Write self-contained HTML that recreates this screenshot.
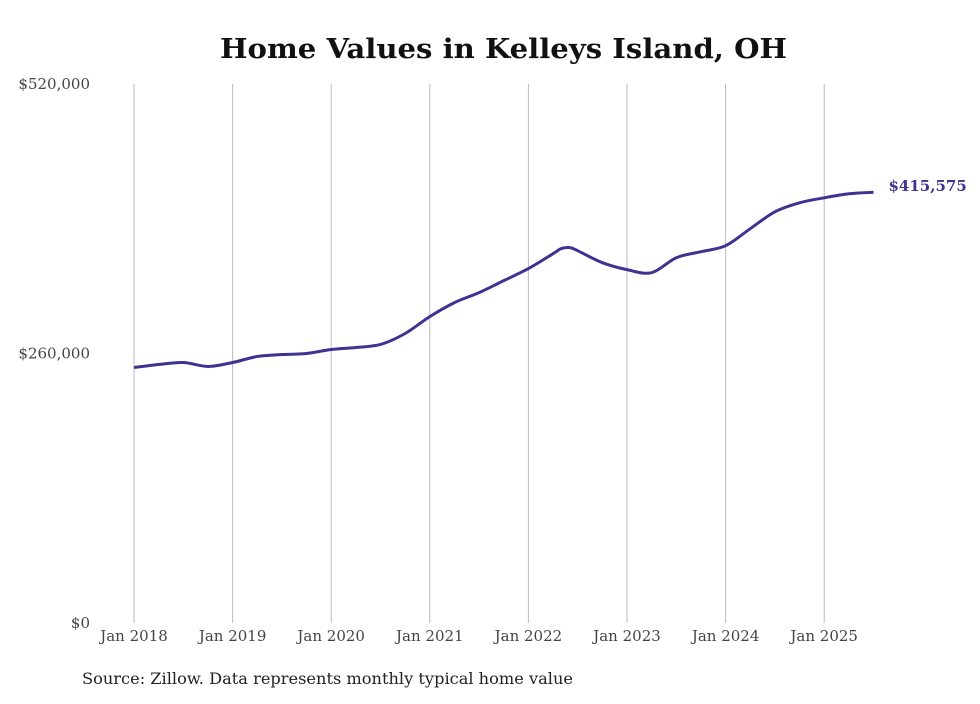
<!DOCTYPE html>
<html><head><meta charset="utf-8"><style>
body{margin:0;background:#fff;width:980px;height:699px;overflow:hidden}
svg text{font-family:"DejaVu Serif","Liberation Serif",serif}
</style></head><body>
<svg width="980" height="699">
<text x="220" y="58" textLength="567" lengthAdjust="spacingAndGlyphs" font-size="27" font-weight="bold" fill="#111">Home Values in Kelleys Island, OH</text>
<g id="grid"></g><g id="yaxis"></g><g id="xaxis"></g>
<path id="line" fill="none" stroke="#3d3391" stroke-width="3"/>
<text id="endlabel" font-size="15" font-weight="bold" fill="#3d3391"></text>
<text x="82" y="684" textLength="491" lengthAdjust="spacingAndGlyphs" font-size="16" fill="#222">Source: Zillow. Data represents monthly typical home value</text>
</svg>
<script>
const dates=[2018,2018.25,2018.5,2018.75,2019,2019.25,2019.5,2019.75,2020,2020.25,2020.5,2020.75,2021,2021.25,2021.5,2021.75,2022,2022.25,2022.33,2022.42,2022.5,2022.75,2023,2023.25,2023.5,2023.75,2024,2024.25,2024.5,2024.75,2025,2025.25,2025.5];
const values=[246500,249400,251300,247500,251300,257100,259000,260000,263900,265800,268700,279300,295600,309100,318700,330300,341900,356300,361100,362100,359200,347600,340900,338000,352400,358200,364000,380400,396700,405400,410200,414100,415575];
const yTicks=[0,260000,520000];
const xTickYears=[2018,2019,2020,2021,2022,2023,2024,2025];
const X=d=>134+(d-2018)*98.6, Y=v=>623-v/520000*539;
const ns="http://www.w3.org/2000/svg";
function mk(t,a,p){const e=document.createElementNS(ns,t);for(const k in a)e.setAttribute(k,a[k]);document.getElementById(p).appendChild(e);return e;}
xTickYears.forEach(yr=>{
 const g=mk('line',{x1:X(yr),x2:X(yr),y1:84,y2:623,stroke:'#bbb','stroke-width':1},'grid');
 
 
 const t=mk('text',{x:X(yr),y:641,'text-anchor':'middle','font-size':15,fill:'#444'},'xaxis');
 t.textContent='Jan '+yr;
 
 
});
yTicks.forEach(v=>{
 const t=mk('text',{x:90,y:Y(v)+5,'text-anchor':'end','font-size':15,fill:'#444'},'yaxis');
 t.textContent='$'+v.toLocaleString('en-US');
 
 
});
const pts=dates.map((d,i)=>[X(d),Y(values[i])]);
let p='M'+pts[0][0]+','+pts[0][1];
for(let i=0;i<pts.length-1;i++){
 const p0=pts[Math.max(0,i-1)],p1=pts[i],p2=pts[i+1],p3=pts[Math.min(pts.length-1,i+2)];
 p+=` C${p1[0]+(p2[0]-p0[0])/6},${p1[1]+(p2[1]-p0[1])/6} ${p2[0]-(p3[0]-p1[0])/6},${p2[1]-(p3[1]-p1[1])/6} ${p2[0]},${p2[1]}`;
}
document.getElementById('line').setAttribute('d',p);
const last=pts[pts.length-1],el=document.getElementById('endlabel');
el.setAttribute('x',last[0]+15);el.setAttribute('y',last[1]-1);
el.textContent='$'+values[values.length-1].toLocaleString('en-US');
</script>
</body></html>
